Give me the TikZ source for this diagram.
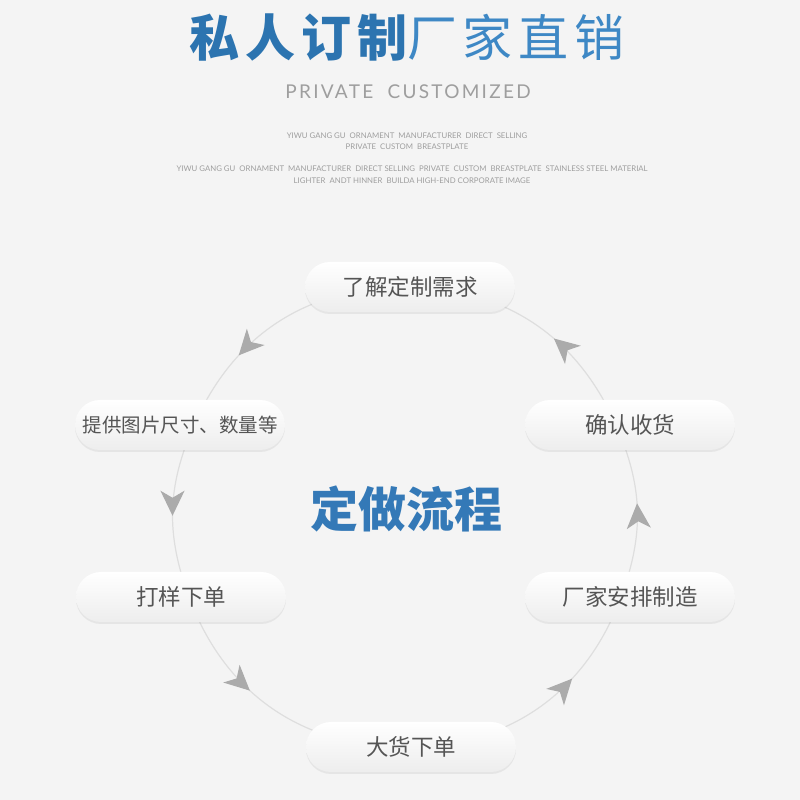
\documentclass[tikz,border=0pt]{standalone}
\usepackage{fontspec}
\setmainfont{Noto Sans CJK SC}
\newfontfamily\latinfont{Lato}
\usetikzlibrary{arrows.meta,decorations.markings,shadows}
\definecolor{pagebg}{HTML}{F4F4F4}
\definecolor{titleblue}{HTML}{2C74B0}
\definecolor{titlelight}{HTML}{3E88C5}
\definecolor{centerblue}{HTML}{3479B7}
\definecolor{ringgray}{HTML}{DEDEDE}
\definecolor{tipgray}{HTML}{ABABAB}
\definecolor{labelgray}{HTML}{555555}
\pgfdeclarelayer{back}
\pgfdeclarelayer{ring}
\pgfsetlayers{back,ring,main}

\begin{document}
\begin{tikzpicture}[x=1pt,y=1pt,
  pill/.style={rounded corners=25pt,minimum width=210pt,minimum height=50pt,
    top color=white,bottom color=black!7,text=labelgray,
    font=\fontsize{22.5}{25}\selectfont,
    drop shadow={opacity=0.12,shadow xshift=0pt,shadow yshift=-2pt}},
  flow/.style={draw=ringgray,line width=1.2pt,postaction={decorate},
    decoration={markings,mark=at position #1 with
      {\arrow[tipgray]{Stealth[length=25pt,width=24pt,inset=7pt]}}}},
  small/.style={font=\latinfont\fontsize{7.8}{11}\selectfont,text=black!38,align=center}]
  \begin{pgfonlayer}{back}
    \fill[pagebg] (0,0) rectangle (800,800);
  \end{pgfonlayer}
  \useasboundingbox (0,0) rectangle (800,800);
  % heading
  \node[font=\fontsize{50}{56}\selectfont\addfontfeature{LetterSpace=12}] (title) at (407,762)
    {{\bfseries\color{titleblue}私人订制}{\color{titlelight}厂家直销}};
  \node[font=\latinfont\fontsize{19}{22}\selectfont\addfontfeature{LetterSpace=12},text=black!38]
    (sub) at (408,708) {PRIVATE\ \ CUSTOMIZED};
  \node[small] (en1) at (407,658.5) {YIWU GANG GU\ \ ORNAMENT\ \ MANUFACTURER\ \ DIRECT\ \ SELLING\\
    PRIVATE\ \ CUSTOM\ \ BREASTPLATE};
  \node[small,font=\latinfont\fontsize{7.8}{12}\selectfont] (en2) at (412,625)
    {YIWU GANG GU\ \ ORNAMENT\ \ MANUFACTURER\ \ DIRECT SELLING\ \ PRIVATE\ \ CUSTOM\ \ BREASTPLATE\ \ STAINLESS STEEL MATERIAL\\
    LIGHTER\ \ ANDT HINNER\ \ BUILDA HIGH-END CORPORATE IMAGE};
  % steps
  \node[pill] (need) at (410,513) {了解定制需求};
  \node[pill,font=\fontsize{19.5}{22}\selectfont] (info) at (180,375) {提供图片尺寸、数量等};
  \node[pill] (sample) at (181,203) {打样下单};
  \node[pill] (bulk) at (411,53) {大货下单};
  \node[pill] (make) at (630,203) {厂家安排制造};
  \node[pill] (confirm) at (630,375) {确认收货};
  \node[font=\bfseries\fontsize{48}{54}\selectfont,text=centerblue] (flowname) at (406,291) {定做流程};
  % ring, counter-clockwise
  \begin{pgfonlayer}{ring}
    \draw[flow=0.69] ([xshift=-5pt]need.center) to[bend right=33] ([xshift=14pt]info.center);
    \draw[flow=0.53] ([xshift=14pt]info.center) to[bend right=22] ([xshift=8pt]sample.center);
    \draw[flow=0.40] ([xshift=8pt]sample.center) to[bend right=35] ([xshift=-6pt]bulk.center);
    \draw[flow=0.66] ([xshift=-6pt]bulk.center) to[bend right=35] ([xshift=-9pt]make.center);
    \draw[flow=0.54] ([xshift=-9pt]make.center) to[bend right=22] ([xshift=-14pt]confirm.center);
    \draw[flow=0.40] ([xshift=-14pt]confirm.center) to[bend right=33] ([xshift=-5pt]need.center);
  \end{pgfonlayer}
\end{tikzpicture}
\end{document}
